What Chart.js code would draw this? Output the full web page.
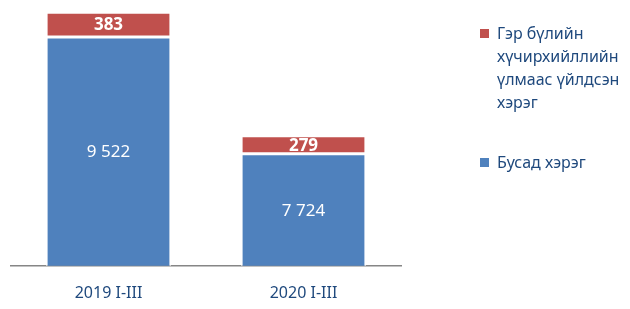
<!DOCTYPE html>
<html>
<head>
<meta charset="utf-8">
<script src="https://cdn.jsdelivr.net/npm/chart.js@4.4.1/dist/chart.umd.min.js"></script>
<style>
    html, body { margin: 0; padding: 0; background: #fff; }
    #wrap { position: relative; width: 630px; height: 309px; }
    #legend { position: absolute; left: 480px; top: 22px; width: 150px;
              font-family: "Noto Sans", sans-serif; font-size: 16px; line-height: 23px; color: #1F497D; }
    .leg-item { position: relative; padding-left: 17px; margin-bottom: 37px; }
    .leg-box { position: absolute; left: 0; top: 7px; width: 9px; height: 9px; }
</style>
</head>
<body>
<div id="wrap">
    <canvas id="grafico" width="630" height="309"></canvas>
    <div id="legend"></div>
</div>
<script>
// Dados do gráfico
const periodos    = ['2019 I-III', '2020 I-III'];
const outrosCasos = [9522, 7724];
const violencia   = [383, 279];
const nomeOutros    = 'Бусад хэрэг';
const nomeViolencia = ['Гэр бүлийн', 'хүчирхийллийн', 'үлмаас үйлдсэн', 'хэрэг'];

const azul     = '#4F81BD';
const vermelho = '#C0504D';
const textoCor = '#1F497D';

// Escreve os valores dentro das barras
const rotulosPlugin = {
    id: 'rotulos',
    afterDatasetsDraw(chart) {
        const ctx = chart.ctx;
        chart.data.datasets.forEach((ds, i) => {
            const meta = chart.getDatasetMeta(i);
            meta.data.forEach((bar, j) => {
                const v = ds.data[j];
                const topo = Math.min(bar.y, bar.base);
                const base = Math.min(Math.max(bar.y, bar.base), chart.chartArea.bottom);
                const y = (topo + base) / 2;
                ctx.save();
                ctx.fillStyle = '#fff';
                ctx.textAlign = 'center';
                ctx.textBaseline = 'middle';
                ctx.font = (i === 1 ? 'bold ' : '') + '17px "Noto Sans", sans-serif';
                ctx.fillText(v.toLocaleString('en-US').replace(',', ' '), bar.x, y + 1);
                ctx.restore();
            });
        });
    }
};

const grafico = new Chart(document.getElementById('grafico'), {
    type: 'bar',
    data: {
        labels: periodos,
        datasets: [
            { label: nomeOutros, data: outrosCasos, backgroundColor: azul, borderColor: '#fff', borderWidth: 1.5, borderSkipped: false },
            { label: nomeViolencia.join(' '), data: violencia, backgroundColor: vermelho, borderColor: '#fff', borderWidth: 1.5, borderSkipped: false }
        ]
    },
    options: {
        responsive: false,
        animation: false,
        layout: { padding: { left: 11, right: 229, top: 6, bottom: -12 } },
        plugins: { legend: { display: false }, tooltip: { enabled: false } },
        datasets: { bar: { categoryPercentage: 0.64, barPercentage: 1 } },
        scales: {
            x: {
                stacked: true,
                grid: { display: false, drawTicks: false },
                border: { display: true, color: '#868686', width: 1.5 },
                ticks: { color: textoCor, padding: 18, font: { family: 'Noto Sans', size: 16 } }
            },
            y: {
                stacked: true,
                display: false,
                min: 6000,
                max: 10000
            }
        }
    },
    plugins: [rotulosPlugin]
});

// Legenda em HTML (vermelho primeiro, como no original)
const legendaEl = document.getElementById('legend');
legendaEl.innerHTML = [
    { cor: vermelho, linhas: nomeViolencia },
    { cor: azul, linhas: [nomeOutros] }
].map(item => `
    <div class="leg-item">
        <span class="leg-box" style="background:${item.cor}"></span>
        ${item.linhas.join('<br>')}
    </div>`).join('');
</script>
</body>
</html>
